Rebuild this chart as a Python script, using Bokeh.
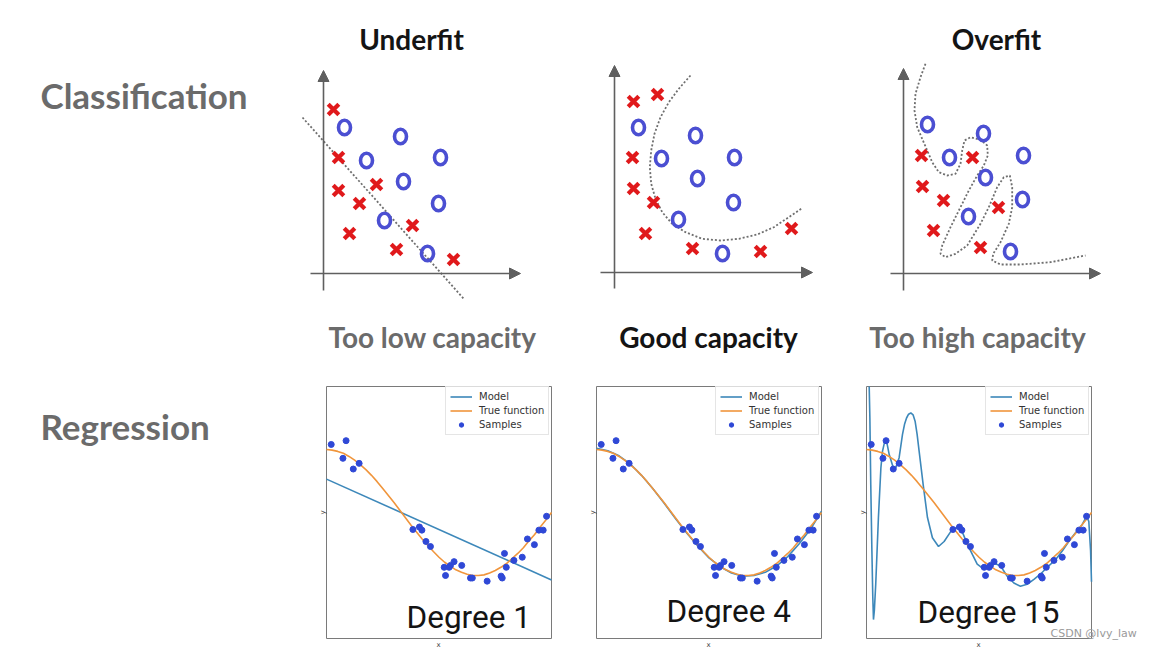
import math
from bokeh.plotting import figure
from bokeh.models import (Range1d, Label, Arrow, NormalHead, Legend, LegendItem)
from bokeh.embed import file_html
from bokeh.resources import INLINE

# ---------------- data ----------------
# Classification panels (unit = arbitrary grid, origin at axis crossing)
under_x_pts = [(1.0, 16.4), (1.5, 11.6), (1.5, 8.3), (5.3, 8.9), (3.6, 7.0), (2.6, 4.0), (8.9, 4.8), (7.3, 2.4), (13.0, 1.4)]
under_o_pts = [(2.1, 14.6), (7.7, 13.7), (4.3, 11.3), (11.7, 11.6), (8.0, 9.2), (11.5, 7.0), (6.1, 5.3), (10.4, 2.0)]
under_boundary_x = [-2.1, 14.0]
under_boundary_y = [15.6, -2.5]

good_x_pts = [(1.9, 17.1), (4.3, 17.8), (1.8, 11.5), (1.9, 8.4), (3.9, 7.0), (3.1, 3.9), (7.8, 2.4), (14.6, 2.1), (17.7, 4.4)]
good_o_pts = [(2.4, 14.5), (8.1, 13.7), (4.7, 11.4), (12.0, 11.5), (8.3, 9.4), (11.9, 7.0), (6.4, 5.3), (10.8, 1.9)]
good_boundary_x = [7.6, 6.43, 5.43, 4.6, 4.0, 3.67, 3.53, 3.67, 4.1, 4.77, 5.77, 7.1, 8.77, 10.6, 12.43, 14.27, 15.93, 17.43, 18.67]
good_boundary_y = [19.7, 18.37, 17.03, 15.53, 13.87, 12.2, 10.53, 8.87, 7.37, 6.03, 4.87, 4.03, 3.37, 3.2, 3.37, 3.8, 4.53, 5.53, 6.37]

over_x_pts = [(1.8, 11.8), (6.9, 11.6), (1.9, 8.7), (4.0, 7.3), (9.5, 6.6), (3.0, 4.3), (7.7, 2.6)]
over_o_pts = [(2.4, 14.9), (8.0, 14.0), (4.6, 11.6), (12.0, 11.8), (8.2, 9.6), (11.9, 7.4), (6.5, 5.7), (10.7, 2.2)]
over_boundary_x = [2.2, 1.7, 1.2, 1.1, 1.37, 1.87, 2.37, 2.87, 3.53, 4.37, 5.2, 5.7, 5.87, 6.1, 6.7, 7.7, 8.37, 8.43, 8.03, 7.37,
                   6.53, 5.7, 4.7, 3.87, 3.7, 4.2, 5.2, 6.37, 7.7, 8.53, 9.37, 10.03, 10.63, 10.87, 10.87, 10.53, 9.7, 8.97,
                   8.87, 9.7, 11.7, 14.7, 18.2]
over_boundary_y = [20.97, 19.63, 17.97, 16.3, 14.63, 13.47, 12.3, 11.13, 10.13, 9.8, 9.97, 10.97, 12.3, 13.3, 13.63, 13.37, 12.8,
                   11.8, 10.8, 9.8, 8.3, 6.63, 4.63, 2.8, 1.97, 1.63, 1.97, 2.8, 4.97, 6.63, 8.63, 9.63, 9.8, 8.63, 6.63, 4.97,
                   3.13, 1.97, 1.3, 0.9, 0.9, 1.13, 1.8]

# Regression panels
XLIM = (0.0, 1.0)
YLIM = (-2.0, 2.0)
sample_x = [0.021, 0.087, 0.073, 0.119, 0.145, 0.384, 0.413, 0.424, 0.442, 0.462, 0.523, 0.545, 0.529, 0.551, 0.567,
            0.601, 0.640, 0.648, 0.714, 0.776, 0.781, 0.791, 0.799, 0.833, 0.870, 0.893, 0.924, 0.944, 0.963, 0.978]
sample_y = [1.08, 1.14, 0.86, 0.69, 0.78, -0.27, -0.23, -0.28, -0.46, -0.54, -0.87, -0.87, -1.00, -0.84, -0.78,
            -0.84, -1.04, -1.04, -1.09, -1.01, -1.04, -0.65, -0.87, -0.76, -0.71, -0.42, -0.51, -0.28, -0.28, -0.06]

true_x = [0.0, 0.025, 0.05, 0.075, 0.1, 0.125, 0.15, 0.175, 0.2, 0.225, 0.25, 0.275, 0.3, 0.325, 0.35, 0.375, 0.4,
          0.425, 0.45, 0.475, 0.5, 0.525, 0.55, 0.575, 0.6, 0.625, 0.65, 0.675, 0.7, 0.725, 0.75, 0.775, 0.8, 0.825,
          0.85, 0.875, 0.9, 0.925, 0.95, 0.975, 1.0]
true_y = [1.0, 0.99, 0.97, 0.94, 0.89, 0.83, 0.76, 0.68, 0.59, 0.49, 0.38, 0.27, 0.16, 0.04, -0.08, -0.20, -0.31,
          -0.42, -0.52, -0.62, -0.71, -0.79, -0.85, -0.91, -0.95, -0.98, -1.0, -1.0, -0.99, -0.96, -0.92, -0.87,
          -0.81, -0.73, -0.65, -0.56, -0.45, -0.35, -0.23, -0.12, 0.0]

deg1_x = [0.0, 1.0]
deg1_y = [0.53, -1.07]

deg4_x = [0.0, 0.05, 0.1, 0.15, 0.2, 0.25, 0.3, 0.35, 0.4, 0.45, 0.5, 0.55, 0.6, 0.65, 0.7, 0.75, 0.8, 0.85, 0.9, 0.95, 1.0]
deg4_y = [1.02, 0.98, 0.90, 0.77, 0.59, 0.38, 0.15, -0.09, -0.32, -0.53, -0.72, -0.86, -0.96, -1.01, -1.00, -0.95,
          -0.85, -0.70, -0.50, -0.27, 0.02]

deg15_x = [0.012, 0.015, 0.019, 0.024, 0.028, 0.031, 0.035, 0.041, 0.053, 0.064, 0.071, 0.083, 0.092, 0.101, 0.119,
           0.130, 0.145, 0.160, 0.169, 0.178, 0.187, 0.197, 0.207, 0.216, 0.225, 0.234, 0.252, 0.271, 0.293, 0.320,
           0.345, 0.375, 0.404, 0.427, 0.449, 0.471, 0.492, 0.514, 0.544, 0.566, 0.596, 0.625, 0.655, 0.684, 0.714,
           0.744, 0.773, 0.803, 0.840, 0.870, 0.899, 0.929, 0.959, 0.978, 0.988, 0.996, 1.0]
deg15_y = [2.0, 1.50, 0.44, -0.61, -1.35, -1.70, -1.55, -1.14, -0.08, 0.71, 0.97, 1.16, 1.08, 0.92, 0.71,
           0.71, 0.87, 1.24, 1.40, 1.50, 1.56, 1.58, 1.55, 1.45, 1.24, 0.97, 0.44, -0.08, -0.40, -0.54,
           -0.46, -0.30, -0.23, -0.32, -0.51, -0.67, -0.82, -0.88, -0.85, -0.80, -0.85, -1.01, -1.12, -1.17, -1.14,
           -1.06, -0.98, -0.87, -0.75, -0.61, -0.46, -0.32, -0.19, -0.06, -0.14, -0.61, -1.10]

row_titles = ["Classification", "Regression"]
col_titles = ["Underfit", "", "Overfit"]
capacity_labels = ["Too low capacity", "Good capacity", "Too high capacity"]
degree_labels = ["Degree 1", "Degree 4", "Degree 15"]
legend_labels = ["Model", "True function", "Samples"]
watermark = "CSDN @lvy_law"

# ---------------- styling ----------------
GRAY_TXT = "#6b6b6b"
BLACK_TXT = "#141414"
RED = "#e0191b"
BLUE_O = "#4b4fd2"
AXIS_C = "#5f5f5f"
DOT_C = "#6f6f6f"
MODEL_C = "#3d88ba"
TRUE_C = "#f0953c"
SAMPLE_C = "#2f48d6"

# the figure sits at the page's top-left corner; page pixels are used as base coordinates
PX0, PX1, PY0, PY1 = 0, 1150, 0, 650
p = figure(width=PX1 - PX0, height=PY1 - PY0, output_backend="svg", toolbar_location=None,
           x_range=Range1d(PX0, PX1), y_range=Range1d(PY1, PY0),
           x_axis_type=None, y_axis_type=None, min_border=0, outline_line_color=None)
p.background_fill_color = "white"
p.border_fill_color = "white"

xr, yr = {}, {}


def panel_ranges(name, x0_px, x1_px, xa, xb, ytop_px, ybot_px, ya, yb):
    sx = (xb - xa) / (x1_px - x0_px)
    sy = (yb - ya) / (ybot_px - ytop_px)
    xr[name] = Range1d(xa - sx * (x0_px - PX0), xa + sx * (PX1 - x0_px))
    yr[name] = Range1d(ya - sy * (PY1 - ybot_px), ya + sy * (ybot_px - PY0))


# classification panels: origin pixel, 10 px per unit
cls_panels = [
    ("c1", (323, 273), under_x_pts, under_o_pts, under_boundary_x, under_boundary_y, (-1.7, 20.3), (-1.3, 19.7)),
    ("c2", (614, 272), good_x_pts, good_o_pts, good_boundary_x, good_boundary_y, (-1.6, 20.7), (-1.4, 19.8)),
    ("c3", (903, 273), over_x_pts, over_o_pts, over_boundary_x, over_boundary_y, (-1.7, 20.5), (-1.3, 19.7)),
]
for name, (ox, oy), *_ in cls_panels:
    panel_ranges(name, ox, ox + 10, 0, 1, oy - 10, oy, 0, 1)

reg_lefts = [326, 596, 866]
for i, L in enumerate(reg_lefts):
    panel_ranges("r%d" % i, L, L + 225, XLIM[0], XLIM[1], 386, 638, YLIM[0], YLIM[1])

p.extra_x_ranges = xr
p.extra_y_ranges = yr

# ---------- classification drawing ----------
for name, _, xs, os_, bx, by, vspan, hspan in cls_panels:
    kw = dict(x_range_name=name, y_range_name=name)
    for (xs0, ys0, xe, ye) in [(0, vspan[0], 0, vspan[1]), (hspan[0], 0, hspan[1], 0)]:
        p.add_layout(Arrow(end=NormalHead(size=11, fill_color=AXIS_C, line_color=AXIS_C, line_width=1),
                           x_start=xs0, y_start=ys0, x_end=xe, y_end=ye,
                           line_color=AXIS_C, line_width=1.6, **kw))
    p.line(bx, by, line_color=DOT_C, line_width=1.8, line_dash="2 2", **kw)
    p.scatter([a for a, b in xs], [b for a, b in xs], marker="x", size=15, line_width=4.2,
              line_color=RED, **kw)
    p.ellipse([a for a, b in os_], [b for a, b in os_], width=12, height=14.5,
              width_units="screen", height_units="screen",
              fill_color=None, line_color=BLUE_O, line_width=3.6, **kw)

# ---------- regression drawing ----------
models = [(deg1_x, deg1_y), (deg4_x, deg4_y), (deg15_x, deg15_y)]
for i, (mx, my) in enumerate(models):
    name = "r%d" % i
    kw = dict(x_range_name=name, y_range_name=name)
    p.quad(left=[XLIM[0]], right=[XLIM[1]], bottom=[YLIM[0]], top=[YLIM[1]],
           fill_color="white", line_color="#7a7a7a", line_width=1, **kw)
    rm = p.line(mx, my, line_color=MODEL_C, line_width=1.6, **kw)
    rt = p.line(true_x, true_y, line_color=TRUE_C, line_width=1.6, **kw)
    rs = p.scatter(sample_x, sample_y, marker="circle", size=6, fill_color=SAMPLE_C,
                   line_color=SAMPLE_C, **kw)
    leg = Legend(items=[LegendItem(label=legend_labels[0], renderers=[rm]),
                        LegendItem(label=legend_labels[1], renderers=[rt]),
                        LegendItem(label=legend_labels[2], renderers=[rs])],
                 location=(reg_lefts[i] + 119 - PX0, PY1 - 435))
    leg.label_text_font = "DejaVu Sans"
    leg.label_text_font_size = "10px"
    leg.label_text_color = "#333333"
    leg.glyph_width = 22
    leg.glyph_height = 11
    leg.label_height = 11
    leg.spacing = 3
    leg.padding = 4
    leg.margin = 0
    leg.label_standoff = 7
    leg.border_line_color = "#cccccc"
    leg.background_fill_alpha = 0.85
    p.add_layout(leg)


# ---------- texts ----------
def txt(x, y, s, size, color, font="Lato", style="bold", align="left", baseline="alphabetic", angle=0):
    p.add_layout(Label(x=x, y=y, text=s, text_font=font, text_font_size=size, text_color=color,
                       text_font_style=style, text_align=align, text_baseline=baseline, angle=angle))


txt(40, 94, row_titles[0], "35px", GRAY_TXT)
txt(40, 425, row_titles[1], "35px", GRAY_TXT)
txt(411, 38, col_titles[0], "28px", BLACK_TXT, align="center")
txt(996, 38, col_titles[2], "28px", BLACK_TXT, align="center")
for cx, s, c in zip([432, 708, 977], capacity_labels, [GRAY_TXT, BLACK_TXT, GRAY_TXT]):
    txt(cx, 336, s, "28px", c, align="center")
for L, s, base in zip([406, 666, 917], degree_labels, [617, 611, 612]):
    txt(L, base, s, "31.5px", BLACK_TXT, font="Roboto", style="normal")
for L in reg_lefts:
    txt(L - 4, 512, "y", "7px", "#444444", font="DejaVu Sans", style="normal", align="center",
        baseline="middle", angle=math.pi / 2)
    txt(L + 112, 644, "x", "7px", "#444444", font="DejaVu Sans", style="normal", align="center",
        baseline="middle")
txt(1050, 633, watermark, "11px", "#9a9a9a", font="DejaVu Sans", style="normal")

open("out.html", "w").write(file_html(p, INLINE))
